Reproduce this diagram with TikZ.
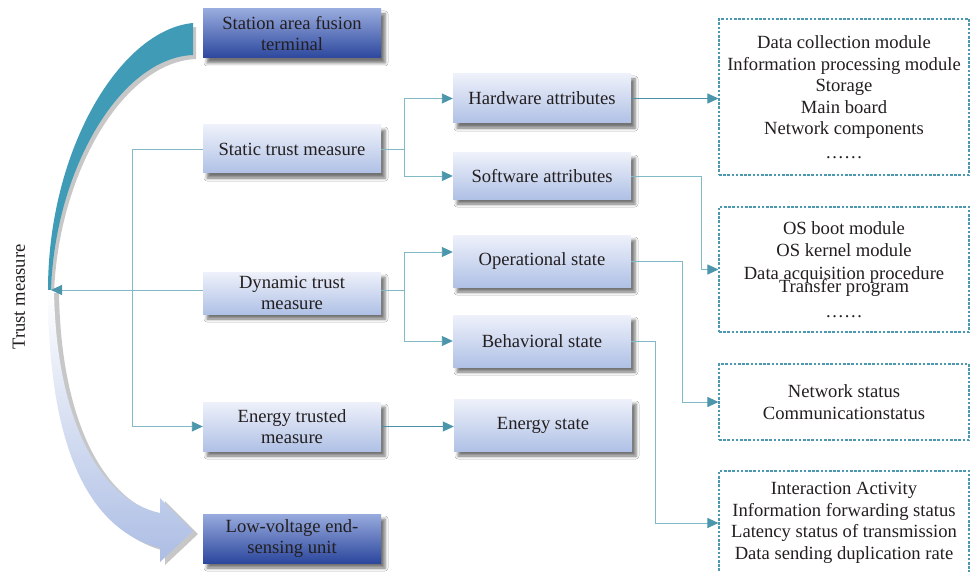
\documentclass[tikz,border=0pt]{standalone}
\usepackage{fontspec}
\setmainfont{Liberation Serif}
\usetikzlibrary{arrows.meta,shadows.blur,calc}
\definecolor{boxtop}{RGB}{238,241,250}
\definecolor{boxbot}{RGB}{176,193,230}
\definecolor{dtop}{RGB}{152,171,222}
\definecolor{dbot}{RGB}{44,71,157}
\definecolor{dashc}{RGB}{75,152,175}
\definecolor{linel}{RGB}{130,185,198}
\definecolor{lined}{RGB}{74,143,163}
\definecolor{tipc}{RGB}{76,150,172}
\definecolor{bandteal}{RGB}{64,155,183}
\definecolor{bandlow}{RGB}{172,189,228}
\definecolor{txt}{RGB}{35,31,32}
\tikzset{
  boxshadow/.style={blur shadow={shadow xshift=4pt,shadow yshift=-5pt,shadow blur radius=3pt,shadow opacity=55}},
  lbox/.style={boxshadow,top color=boxtop,bottom color=boxbot,minimum width=178pt,inner sep=1pt,align=center,text=txt},
  dbox/.style={boxshadow,top color=dtop,bottom color=dbot,minimum width=178pt,inner sep=1pt,align=center,text=txt},
  dashbox/.style={draw=dashc,line width=1.1pt,dash pattern=on 2.6pt off 1.6pt,minimum width=250pt,inner sep=2pt,align=center,text=txt},
  connl/.style={draw=linel,line width=0.9pt},
  connd/.style={draw=lined,line width=1pt},
  myarr/.style={-{Triangle[length=11pt,width=10pt,color=tipc]}},
}
\begin{document}
\begin{tikzpicture}[x=1pt,y=-1pt,font=\fontsize{18.6}{21.5}\selectfont]
\clip (0,0) rectangle (971,572);
\fill[white] (0,0) rectangle (971,572);

% upper teal band
\fill[black,opacity=.22,shift={(3,4)}] (48,290) .. controls (48,150) and (120,30) .. (193,23) -- (193,55) .. controls (120,58) and (55,170) .. (51,290) -- cycle;
\fill[bandteal] (48,290) .. controls (48,150) and (120,30) .. (193,23) -- (193,55) .. controls (120,58) and (55,170) .. (51,290) -- cycle;

% lower light band arrow
\fill[black,opacity=.22,shift={(5,3)}] (48,290) .. controls (48,450) and (90,530) .. (160,548) -- (160,562) -- (193,531) -- (160,498) -- (160,513) .. controls (100,500) and (56,420) .. (54,290) -- cycle;
\shade[top color=white,bottom color=bandlow] (48,290) .. controls (48,450) and (90,530) .. (160,548) -- (160,562) -- (193,531) -- (160,498) -- (160,513) .. controls (100,500) and (56,420) .. (54,290) -- cycle;

\node[rotate=90,text=txt] (tm) at (19,297) {Trust measure};
\coordinate (tmtip) at (51,290);

% left column
\node[dbox,minimum height=49pt] (st) at (292,33.5) {Station area fusion\\terminal};
\node[lbox,minimum height=48pt] (stat) at (292,149) {Static trust measure};
\node[lbox,minimum height=42pt] (dyn) at (292,293) {Dynamic trust\\measure};
\node[lbox,minimum height=49pt] (entm) at (292,426.5) {Energy trusted\\measure};
\node[dbox,minimum height=49pt] (lv) at (292,538.5) {Low-voltage end-\\sensing unit};

% middle column
\node[lbox,minimum height=49pt] (hw) at (542,98.5) {Hardware attributes};
\node[lbox,minimum height=46pt] (sw) at (542,176) {Software attributes};
\node[lbox,minimum height=52pt] (op) at (542,261) {Operational state};
\node[lbox,minimum height=52pt] (beh) at (542,341) {Behavioral state};
\node[lbox,minimum height=52pt] (es) at (543,425) {Energy state};

% right column
\node[dashbox,minimum height=156pt] (b1) at (844,97) {Data collection module\\Information processing module\\Storage\\Main board\\Network components\\[2pt]……};
\node[dashbox,minimum height=125pt] (b2) at (844,269.5) {OS boot module\\OS kernel module\\[1.5pt]Data acquisition procedure\\[-8.5pt]Transfer program\\[3.5pt]……};
\node[dashbox,minimum height=76pt] (b3) at (844,402) {Network status\\Communicationstatus};
\node[dashbox,minimum height=104pt] (b4) at (844,523) {Interaction Activity\\Information forwarding status\\Latency status of transmission\\Data sending duplication rate};

% connectors
\draw[connl,myarr] (stat.west) -- ++(-70,0) |- (entm.west);
\draw[connl,myarr] (dyn.west |- tmtip) -- (tmtip);
\draw[connl] (stat.east) -- ++(23,0) coordinate (sbr);
\draw[connl,myarr] (sbr) |- (hw.west);
\draw[connl,myarr] (sbr) |- (sw.west);
\draw[connl] (dyn.east |- tmtip) -- ++(23,0) coordinate (dbr);
\draw[connl,myarr] (dbr) |- ([yshift=9pt]op.west);
\draw[connl,myarr] (dbr) |- (beh.west);
\draw[connd,myarr] (hw.east) -- (hw.east -| b1.west);
\draw[connl,myarr] (sw.east) -- ++(70,0) |- (b2.west);
\draw[connl,myarr] (op.east) -- ++(51,0) |- (b3.west);
\draw[connl,myarr] (beh.east) -- ++(24,0) |- (b4.west);
\draw[connd,myarr] (entm.east) -- (entm.east -| es.west);
\end{tikzpicture}
\end{document}
